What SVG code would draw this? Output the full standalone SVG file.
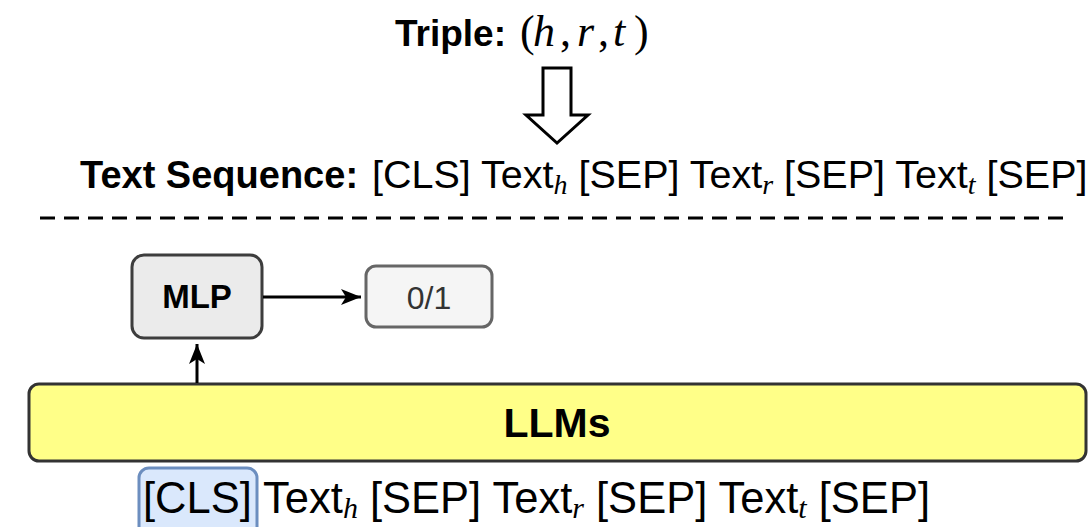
<svg xmlns="http://www.w3.org/2000/svg" width="1088" height="527" viewBox="0 0 1088 527">
  <defs>
    <style>
      .sans { font-family: "Liberation Sans", Arial, Helvetica, sans-serif; fill: #000; }
      .bold { font-weight: bold; }
      .math { font-family: "Liberation Serif", "Times New Roman", serif; font-style: italic; }
      .mathup { font-family: "Liberation Serif", "Times New Roman", serif; font-style: normal; }
      .edge { stroke: #000; stroke-width: 3; fill: none; }
    </style>
    <marker id="arrow" markerUnits="userSpaceOnUse" viewBox="0 0 20 16" markerWidth="20" markerHeight="16" refX="20" refY="8" orient="auto">
      <path d="M0,0 L20,8 L0,16 L5,8 z" fill="#000"/>
    </marker>
  </defs>

  <rect width="1088" height="527" fill="#ffffff"/>

  <g id="triple">
    <text class="sans bold" x="395" y="46" font-size="37">Triple:</text>
    <text font-size="44" y="46">
      <tspan class="mathup" x="520">(</tspan><tspan class="math" x="533">h</tspan><tspan class="mathup" x="560">,</tspan><tspan class="math" x="577">r</tspan><tspan class="mathup" x="598">,</tspan><tspan class="math" x="613">t</tspan><tspan class="mathup" x="634">)</tspan>
    </text>
  </g>

  <g id="hollow-arrow">
    <polygon points="543,68 571,68 571,115 588,115 557,143 526,115 543,115" fill="#ffffff" stroke="#000" stroke-width="3" stroke-linejoin="miter"/>
  </g>

  <g id="text-sequence">
    <text class="sans bold" x="80" y="188" font-size="38">Text Sequence:</text>
    <text class="sans" x="372" y="188" font-size="39.5">[CLS] Text<tspan class="math" font-size="28" dy="6">h</tspan><tspan dy="-6"> [SEP] Text</tspan><tspan class="math" font-size="28" dy="6">r</tspan><tspan dy="-6"> [SEP] Text</tspan><tspan class="math" font-size="28" dy="6">t</tspan><tspan dy="-6"> [SEP]</tspan></text>
  </g>

  <g id="divider">
    <line x1="40" y1="218" x2="1068" y2="218" stroke="#000" stroke-width="3" stroke-dasharray="15 9"/>
  </g>

  <g id="mlp">
    <rect x="132" y="255" width="130" height="83" rx="12" ry="12" fill="#ebebeb" stroke="#3d3d3d" stroke-width="3"/>
    <text class="sans bold" x="197" y="308" font-size="33" text-anchor="middle">MLP</text>
  </g>

  <g id="output">
    <rect x="366" y="266" width="126" height="61" rx="10" ry="10" fill="#f5f5f5" stroke="#666666" stroke-width="3"/>
    <text class="sans" x="429" y="309" font-size="32" text-anchor="middle" style="fill:#333333">0/1</text>
  </g>

  <g id="llms">
    <rect x="29" y="384" width="1057" height="77" rx="10" ry="10" fill="#ffff88" stroke="#333333" stroke-width="3"/>
    <text class="sans bold" x="557" y="437" font-size="41" text-anchor="middle">LLMs</text>
  </g>

  <g id="cls-token">
    <rect x="139" y="468" width="118" height="70" rx="10" ry="10" fill="#dae8fc" stroke="#6c8ebf" stroke-width="3"/>
  </g>

  <g id="input-sequence">
    <text class="sans" x="143" y="513" font-size="43.5">[CLS] Text<tspan class="math" font-size="30" dy="5">h</tspan><tspan dy="-5"> [SEP] Text</tspan><tspan class="math" font-size="30" dy="5">r</tspan><tspan dy="-5"> [SEP] Text</tspan><tspan class="math" font-size="30" dy="5">t</tspan><tspan dy="-5"> [SEP]</tspan></text>
  </g>

  <g id="connectors">
    <line class="edge" x1="263" y1="297" x2="361" y2="297" marker-end="url(#arrow)"/>
    <line class="edge" x1="197" y1="383" x2="197" y2="344" marker-end="url(#arrow)"/>
  </g>
</svg>
